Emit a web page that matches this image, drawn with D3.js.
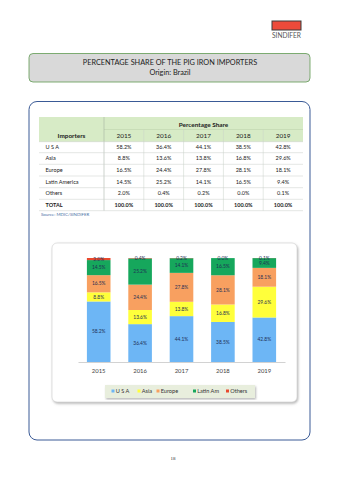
<!DOCTYPE html>
<html>
<head>
<meta charset="utf-8">
<script src="https://cdn.jsdelivr.net/npm/d3@7"></script>
<style>
  body { margin: 0; background: #fff; }
  svg { display: block; font-family: Lato, "Open Sans", sans-serif; }
</style>
</head>
<body>
<script>
// table + chart values
var years = ["2015", "2016", "2017", "2018", "2019"];
var importers = ["U S A", "Asia", "Europe", "Latin America", "Others"];
var legendNames = ["U S A", "Asia", "Europe", "Latin Am", "Others"];
var usa = [58.2, 36.4, 44.1, 38.5, 42.8];
var asia = [8.8, 13.6, 13.8, 16.8, 29.6];
var europe = [16.5, 24.4, 27.8, 28.1, 18.1];
var latinAm = [14.5, 25.2, 14.1, 16.5, 9.4];
var others = [2.0, 0.4, 0.2, 0.0, 0.1];
var totals = [100.0, 100.0, 100.0, 100.0, 100.0];

var series = [usa, asia, europe, latinAm, others];
var colors = ["#6db6f5", "#ffff3b", "#f8a060", "#16a75c", "#e8492e"];

var W = 339, H = 480;
var svg = d3.select("body").append("svg")
  .attr("width", W).attr("height", H);

var defs = svg.append("defs");
var f = defs.append("filter").attr("id", "shadow")
  .attr("x", "-5%").attr("y", "-5%").attr("width", "115%").attr("height", "120%");
f.append("feDropShadow").attr("dx", 1).attr("dy", 1.5).attr("stdDeviation", 1)
  .attr("flood-color", "#888").attr("flood-opacity", 0.6);

// logo
svg.append("rect").attr("x", 272).attr("y", 21).attr("width", 29).attr("height", 9)
  .attr("fill", "#ec4a3a").attr("stroke", "#3a3a3a").attr("stroke-width", 1);
svg.append("text").attr("x", 286.5).attr("y", 38).attr("text-anchor", "middle")
  .attr("font-size", 7).attr("fill", "#555").attr("textLength", 29)
  .attr("lengthAdjust", "spacingAndGlyphs").text("SINDIFER");

// title box
svg.append("rect").attr("x", 29).attr("y", 53.5).attr("width", 281).attr("height", 28.5)
  .attr("rx", 4).attr("fill", "#d9d9d9").attr("stroke", "#5f9b52").attr("stroke-width", 0.8);
svg.append("text").attr("x", 170).attr("y", 64.5).attr("text-anchor", "middle")
  .attr("font-size", 7.3).attr("fill", "#222").text("PERCENTAGE SHARE OF THE PIG IRON IMPORTERS");
svg.append("text").attr("x", 170).attr("y", 75).attr("text-anchor", "middle")
  .attr("font-size", 7.3).attr("fill", "#222").text("Origin: Brazil");

// outer blue box
svg.append("rect").attr("x", 29).attr("y", 101.5).attr("width", 281).attr("height", 338.5)
  .attr("rx", 8).attr("fill", "none").attr("stroke", "#3a5a96").attr("stroke-width", 1);

// table
var colX = d3.scaleBand().domain(years).range([104, 303]);
var rowY = [141.7, 152.7, 164.3, 176, 187.7, 199.3, 210.7];
var tbl = svg.append("g");
tbl.append("rect").attr("x", 39).attr("y", 117).attr("width", 264).attr("height", 24.7)
  .attr("fill", "#d7ebc6");
tbl.append("line").attr("x1", 104).attr("x2", 303).attr("y1", 129.5).attr("y2", 129.5)
  .attr("stroke", "#b9cfa8").attr("stroke-width", 0.5);
tbl.append("line").attr("x1", 104).attr("x2", 104).attr("y1", 117).attr("y2", 210.7)
  .attr("stroke", "#9aa59a").attr("stroke-width", 0.5);
years.forEach(function(y, i) {
  if (i > 0) {
    tbl.append("line").attr("x1", colX(y)).attr("x2", colX(y)).attr("y1", 129.5).attr("y2", 210.7)
      .attr("stroke", "#c8d2c8").attr("stroke-width", 0.5);
  }
});
rowY.forEach(function(y) {
  tbl.append("line").attr("x1", 39).attr("x2", 303).attr("y1", y).attr("y2", y)
    .attr("stroke", "#c8cfc8").attr("stroke-width", 0.5);
});
tbl.append("text").attr("x", 203.5).attr("y", 126.5).attr("text-anchor", "middle")
  .attr("font-size", 6.4).attr("font-weight", "bold").attr("fill", "#222").text("Percentage Share");
tbl.append("text").attr("x", 71.5).attr("y", 137.5).attr("text-anchor", "middle")
  .attr("font-size", 6.4).attr("font-weight", "bold").attr("fill", "#222").text("Importers");
tbl.selectAll("text.yr").data(years).enter().append("text").attr("class", "yr")
  .attr("x", function(d) { return colX(d) + colX.bandwidth() / 2; })
  .attr("y", 137.5).attr("text-anchor", "middle").attr("font-size", 6.4).attr("fill", "#222")
  .text(function(d) { return d; });

var rows = series.map(function(s, i) { return { name: importers[i], vals: s, bold: false }; });
rows.push({ name: "TOTAL", vals: totals, bold: true });
rows.forEach(function(r, i) {
  var yc = (rowY[i] + rowY[i + 1]) / 2 + 1.9;
  tbl.append("text").attr("x", 45.5).attr("y", yc).attr("font-size", 5.5)
    .attr("font-weight", r.bold ? "bold" : "normal").attr("fill", "#222").text(r.name);
  tbl.selectAll(null).data(r.vals).enter().append("text")
    .attr("x", function(d, j) { return colX(years[j]) + colX.bandwidth() / 2; })
    .attr("y", yc).attr("text-anchor", "middle").attr("font-size", 5.5)
    .attr("font-weight", r.bold ? "bold" : "normal").attr("fill", "#222")
    .text(function(d) { return d.toFixed(1) + "%"; });
});
svg.append("text").attr("x", 41).attr("y", 215.5).attr("font-size", 4.4)
  .attr("fill", "#4a6fa5").text("Source: MDIC/SINDIFER");

// chart box
svg.append("rect").attr("x", 52).attr("y", 243).attr("width", 245).attr("height", 159)
  .attr("rx", 5).attr("fill", "#fff").attr("stroke", "#cfcfcf").attr("stroke-width", 0.6)
  .attr("filter", "url(#shadow)");

var x = d3.scaleBand().domain(years).range([78, 285]).paddingInner(0.43).paddingOuter(0.215);
var y = d3.scaleLinear().domain([0, 100]).range([362, 258]);

var stackData = years.map(function(yr, i) {
  var o = { year: yr };
  series.forEach(function(s, k) { o["k" + k] = s[i]; });
  return o;
});
var keys = series.map(function(s, k) { return "k" + k; });
var stacked = d3.stack().keys(keys)(stackData);

var layers = svg.selectAll("g.layer").data(stacked).enter().append("g")
  .attr("class", "layer").attr("fill", function(d, k) { return colors[k]; });
layers.selectAll("rect").data(function(d) { return d; }).enter().append("rect")
  .attr("x", function(d) { return x(d.data.year); })
  .attr("y", function(d) { return y(d[1]); })
  .attr("width", x.bandwidth())
  .attr("height", function(d) { return y(d[0]) - y(d[1]); });

layers.selectAll("text").data(function(d) { return d; }).enter().append("text")
  .attr("x", function(d) { return x(d.data.year) + x.bandwidth() / 2; })
  .attr("y", function(d) { return (y(d[0]) + y(d[1])) / 2 + 1.7; })
  .attr("text-anchor", "middle").attr("font-size", 4.9).attr("fill", "#1f2f55")
  .text(function(d) { return (d[1] - d[0]).toFixed(1) + "%"; });

// baseline + year axis
var xAxis = svg.append("g").attr("transform", "translate(0,362)")
  .call(d3.axisBottom(x).tickSize(0).tickPadding(7));
xAxis.select(".domain").attr("stroke", "#bfbfbf").attr("stroke-width", 0.7);
xAxis.selectAll("text").attr("font-size", 5.9).attr("fill", "#444")
  .attr("font-family", "Lato, sans-serif");

// legend
var lg = svg.append("g");
lg.append("rect").attr("x", 105).attr("y", 385).attr("width", 150).attr("height", 13)
  .attr("fill", "#e8eedd").attr("filter", "url(#shadow)");
var legX = [111.5, 137.5, 156.5, 193, 226];
legendNames.forEach(function(n, i) {
  lg.append("rect").attr("x", legX[i]).attr("y", 389.5).attr("width", 3).attr("height", 3)
    .attr("fill", colors[i]);
  lg.append("text").attr("x", legX[i] + 4.2).attr("y", 393.2).attr("font-size", 5.6)
    .attr("fill", "#333").text(n);
});

// page number
svg.append("text").attr("x", 173).attr("y", 460).attr("text-anchor", "middle")
  .attr("font-size", 5).attr("font-family", "Liberation Serif, serif").attr("fill", "#333").text("18");
</script>
</body>
</html>
